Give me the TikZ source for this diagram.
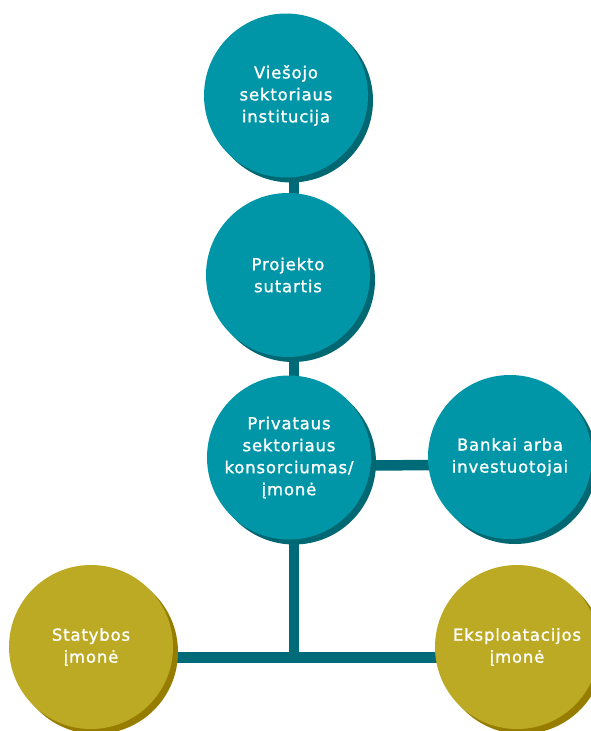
\documentclass[tikz,border=0pt]{standalone}
\usepackage{fontspec}
\usetikzlibrary{backgrounds}
\newfontfamily\lblfont{DejaVu Sans}[LetterSpace=5, FakeBold=1.2]
\definecolor{tealmain}{HTML}{0096A7}
\definecolor{tealshade}{HTML}{006873}
\definecolor{tealline}{HTML}{006B78}
\definecolor{goldmain}{HTML}{BDAA24}
\definecolor{goldshade}{HTML}{967D00}
\tikzset{
  disc/.style={circle, minimum size=164pt, inner sep=0pt, align=center,
    text=white, font=\lblfont\fontsize{16.5}{22}\selectfont},
  tealdisc/.style={disc, fill=tealmain,
    preaction={fill=tealshade, transform canvas={shift={(5pt,-5pt)}}}},
  golddisc/.style={disc, fill=goldmain,
    preaction={fill=goldshade, transform canvas={shift={(5pt,-5pt)}}}},
  conn/.style={draw=tealline, line width=10.5pt}
}
\begin{document}
\begin{tikzpicture}[x=1pt, y=-1pt]
\useasboundingbox (0,0) rectangle (590,731);
% organisations
\node[tealdisc] (pub)      at (286,95.5) {Viešojo\\sektoriaus\\institucija};
\node[tealdisc] (contract) at (288,275)  {Projekto\\sutartis};
\node[tealdisc] (priv)     at (289,457.5){Privataus\\sektoriaus\\konsorciumas/\\įmonė};
\node[tealdisc] (banks)    at (510,457)  {Bankai arba\\investuotojai};
\node[golddisc] (build)    at (91,647)   {Statybos\\įmonė};
\node[golddisc] (oper)     at (517,647)  {Eksploatacijos\\įmonė};
\coordinate (junction) at (294,657.5);
% links behind the discs
\begin{scope}[on background layer]
  \draw[conn] (junction |- pub.center) -- (junction);
  \draw[conn] ([yshift=-8pt]priv.center) -- ([yshift=-8pt]banks.center);
  \draw[conn] (build.center |- junction) -- (oper.center |- junction);
\end{scope}
\end{tikzpicture}
\end{document}
